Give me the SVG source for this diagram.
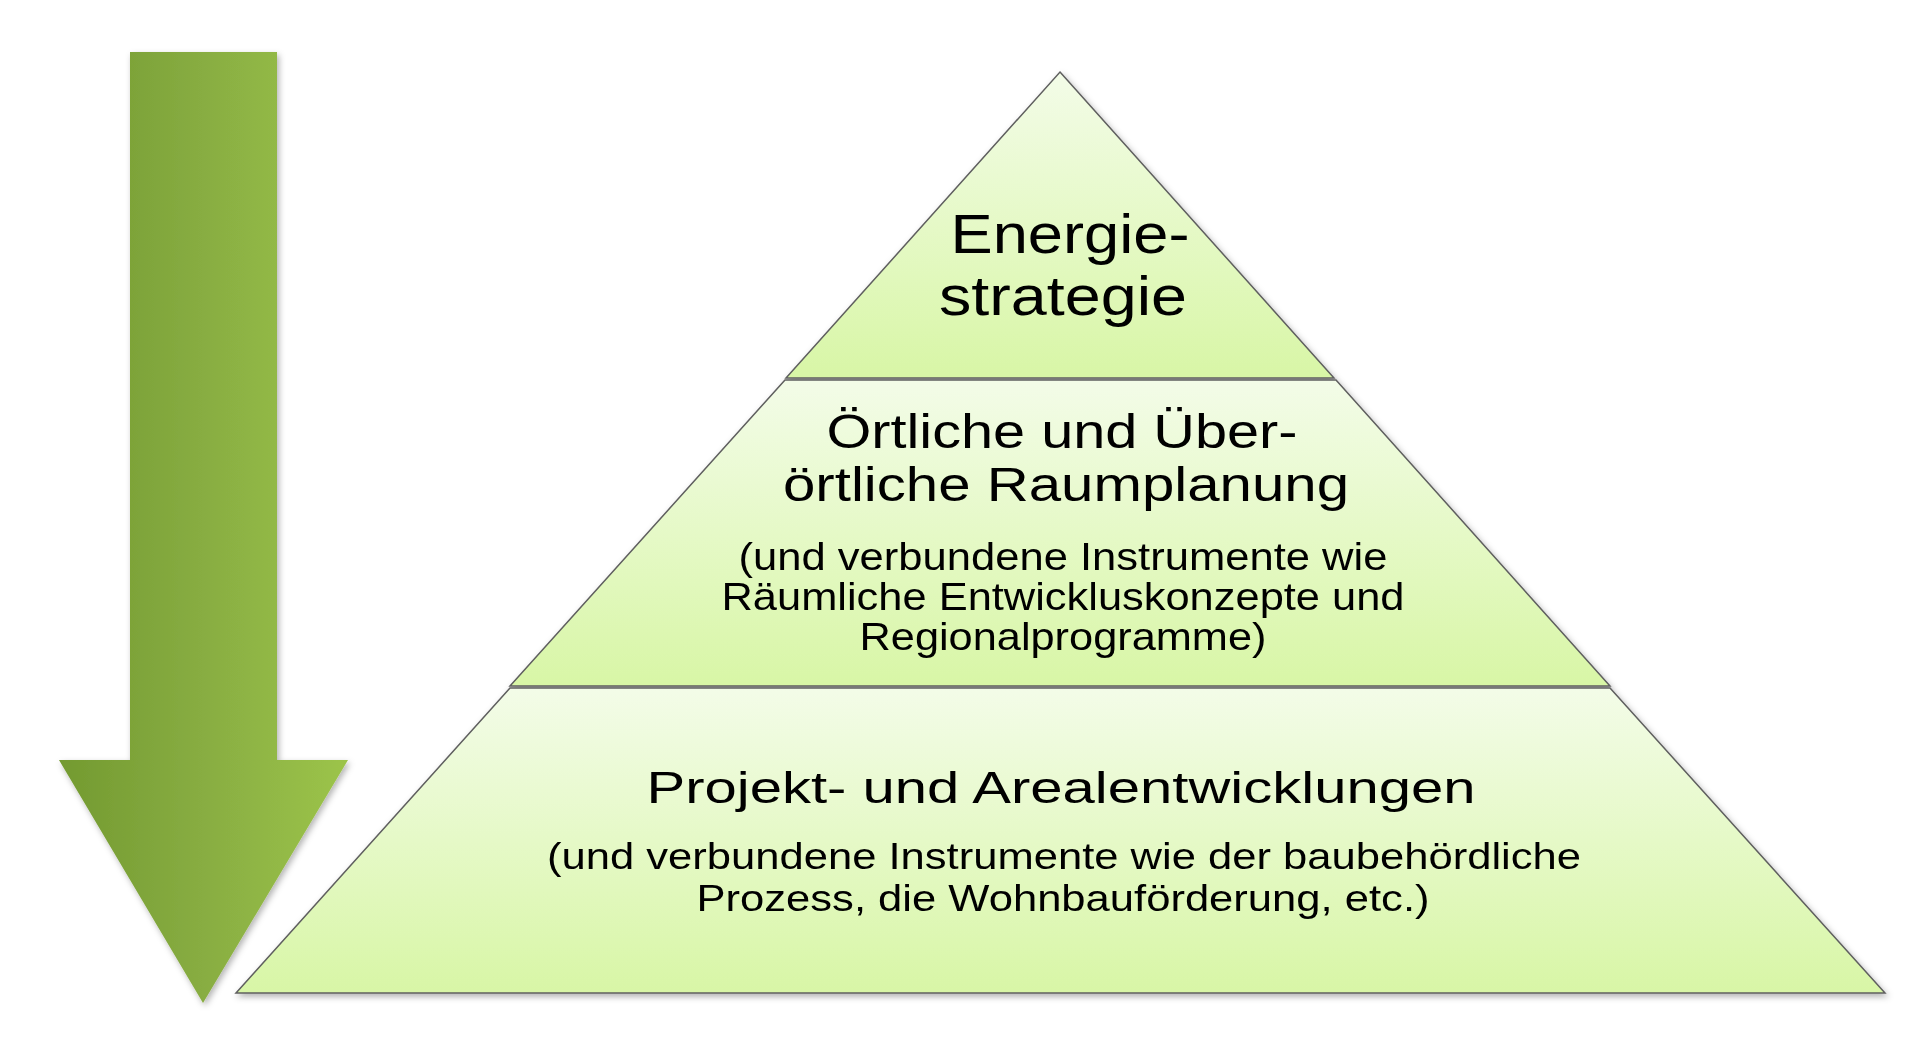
<svg xmlns="http://www.w3.org/2000/svg" width="1920" height="1039" viewBox="0 0 1920 1039">
  <defs>
    <linearGradient id="arrowGrad" x1="0" y1="0" x2="1" y2="0">
      <stop offset="0" stop-color="#739a30"/>
      <stop offset="0.5" stop-color="#88ad42"/>
      <stop offset="1" stop-color="#9cc449"/>
    </linearGradient>
    <linearGradient id="layerGrad" x1="0" y1="0" x2="0" y2="1">
      <stop offset="0" stop-color="#f3fce8"/>
      <stop offset="1" stop-color="#d8f6a6"/>
    </linearGradient>
    <filter id="shadow" x="-10%" y="-10%" width="120%" height="120%">
      <feDropShadow dx="2" dy="3" stdDeviation="3" flood-color="#000" flood-opacity="0.3"/>
    </filter>
    <style>
      .layer { fill: url(#layerGrad); stroke: #5f5f5f; stroke-width: 1.5; stroke-linejoin: miter; }
      .title { font-family: "Liberation Sans", Arial, sans-serif; fill: #000; text-anchor: middle; }
      .big { font-size: 56px; }
      .mid { font-size: 48px; }
      .bot { font-size: 44px; }
      .sub { font-size: 39px; }
      .sub2 { font-size: 37px; }
    </style>
  </defs>
  <rect width="1920" height="1039" fill="#fff"/>

  <g id="arrow" filter="url(#shadow)">
    <polygon points="130,52 277,52 277,760 348,760 203,1003 59,760 130,760" fill="url(#arrowGrad)"/>
  </g>

  <g id="pyramid" filter="url(#shadow)">
    <g id="level-bottom">
      <polygon class="layer" points="510,688 1610,688 1885,993 236,993"/>
      <text class="title bot" x="1061" y="803" textLength="829" lengthAdjust="spacingAndGlyphs">Projekt- und Arealentwicklungen</text>
      <text class="title sub2" x="1064" y="869" textLength="1034" lengthAdjust="spacingAndGlyphs">(und verbundene Instrumente wie der baubehördliche</text>
      <text class="title sub2" x="1063" y="911" textLength="733" lengthAdjust="spacingAndGlyphs">Prozess, die Wohnbauförderung, etc.)</text>
    </g>
    <g id="level-middle">
      <polygon class="layer" points="785,380 1336,380 1610,686 510,686"/>
      <text class="title mid" x="1062" y="448" textLength="471" lengthAdjust="spacingAndGlyphs">Örtliche und Über-</text>
      <text class="title mid" x="1066" y="501" textLength="566" lengthAdjust="spacingAndGlyphs">örtliche Raumplanung</text>
      <text class="title sub" x="1063" y="570" textLength="649" lengthAdjust="spacingAndGlyphs">(und verbundene Instrumente wie</text>
      <text class="title sub" x="1063" y="610" textLength="683" lengthAdjust="spacingAndGlyphs">Räumliche Entwickluskonzepte und</text>
      <text class="title sub" x="1063" y="650" textLength="407" lengthAdjust="spacingAndGlyphs">Regionalprogramme)</text>
    </g>
    <g id="level-top">
      <polygon class="layer" points="1060,72 1334,378 786,378"/>
      <text class="title big" x="1070" y="253" textLength="239" lengthAdjust="spacingAndGlyphs">Energie-</text>
      <text class="title big" x="1063" y="315" textLength="248" lengthAdjust="spacingAndGlyphs">strategie</text>
    </g>
  </g>
</svg>
